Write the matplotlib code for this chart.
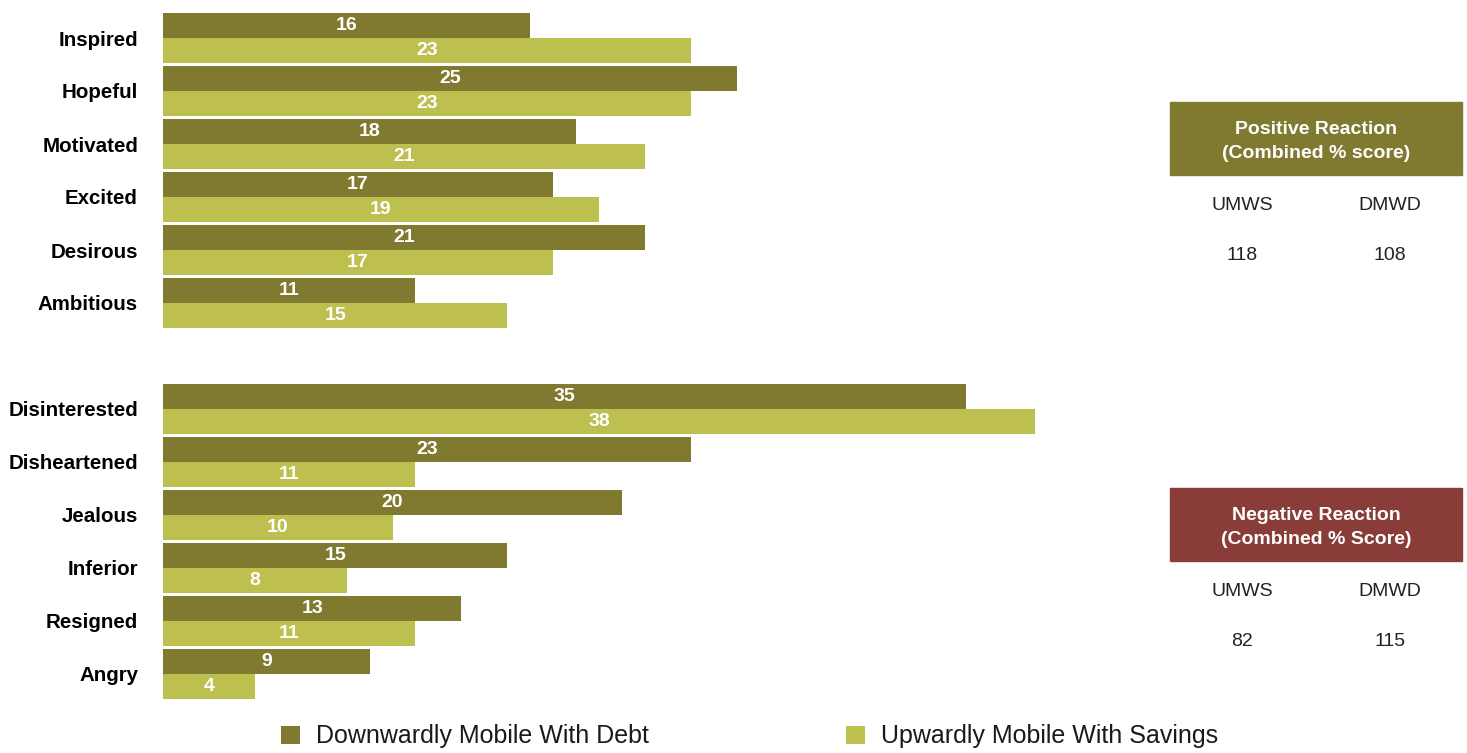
import matplotlib.pyplot as plt
from matplotlib.patches import Rectangle

plt.rcParams['font.family'] = ['Liberation Sans', 'DejaVu Sans']

# data
positive = ['Inspired', 'Hopeful', 'Motivated', 'Excited', 'Desirous', 'Ambitious']
negative = ['Disinterested', 'Disheartened', 'Jealous', 'Inferior', 'Resigned', 'Angry']
pos_debt = [16, 25, 18, 17, 21, 11]
pos_savings = [23, 23, 21, 19, 17, 15]
neg_debt = [35, 23, 20, 15, 13, 9]
neg_savings = [38, 11, 10, 8, 11, 4]

series_names = ['Downwardly Mobile With Debt', 'Upwardly Mobile With Savings']
table_titles = ['Positive Reaction\n(Combined % score)', 'Negative Reaction\n(Combined % Score)']
table_cols = ['UMWS', 'DMWD']
pos_scores = [118, 108]
neg_scores = [82, 115]

DARK = '#807a30'
LIGHT = '#bdbf4f'
RED = '#8a3d38'

W, H = 1467, 753
fig = plt.figure(figsize=(W / 100, H / 100), dpi=100)

# axes placed in pixel terms
ax_left, ax_w = 163, 937
ax_top, ax_bot = 10, 702
ax = fig.add_axes([ax_left / W, 1 - ax_bot / H, ax_w / W, (ax_bot - ax_top) / H])

labels = positive + negative
debt = pos_debt + neg_debt
savings = pos_savings + neg_savings
ypos = list(range(6)) + list(range(7, 13))

bh = 0.48
b1 = ax.barh([y - bh / 2 for y in ypos], debt, height=bh, color=DARK,
             label=series_names[0])
b2 = ax.barh([y + bh / 2 for y in ypos], savings, height=bh, color=LIGHT,
             label=series_names[1])

for y, v in zip(ypos, debt):
    ax.text(v / 2, y - bh / 2, str(v), ha='center', va='center',
            color='white', fontweight='bold', fontsize=14)
for y, v in zip(ypos, savings):
    ax.text(v / 2, y + bh / 2, str(v), ha='center', va='center',
            color='white', fontweight='bold', fontsize=14)

ax.set_xlim(0, ax_w / 22.95)
ax.set_ylim((ax_bot - 38) / 53, (ax_top - 38) / 53)
ax.set_yticks(ypos)
ax.set_yticklabels(labels, fontweight='bold', fontsize=14.8)
ax.tick_params(axis='y', length=0, pad=18)
ax.set_xticks([])
for s in ax.spines.values():
    s.set_visible(False)


def px(x, y):
    return x / W, 1 - y / H


# side tables
for title, scores, color, top in [(table_titles[0], pos_scores, DARK, 102),
                                  (table_titles[1], neg_scores, RED, 488)]:
    x0, y0 = px(1170, top + 73)
    fig.patches.append(Rectangle((x0, y0), 292 / W, 73 / H, color=color,
                                 transform=fig.transFigure))
    line1, line2 = title.split('\n')
    fig.text(*px(1316, top + 27), line1, ha='center', va='center', color='white',
             fontweight='bold', fontsize=14)
    fig.text(*px(1316, top + 52), line2, ha='center', va='center', color='white',
             fontweight='bold', fontsize=14)
    for cx, col, sc in zip([1242, 1390], table_cols, scores):
        fig.text(*px(cx, top + 104), col, ha='center', va='center',
                 color='#222222', fontsize=14)
        fig.text(*px(cx, top + 154), str(sc), ha='center', va='center',
                 color='#222222', fontsize=14)

fig.legend(handles=[b1, b2], loc='upper left', bbox_to_anchor=px(268, 712),
           ncol=2, frameon=False, fontsize=18, borderpad=0,
           handlelength=0.76, handleheight=0.76, handletextpad=0.64,
           columnspacing=7.9, labelcolor='#1a1a1a')

fig.savefig('out.png', dpi=100)
